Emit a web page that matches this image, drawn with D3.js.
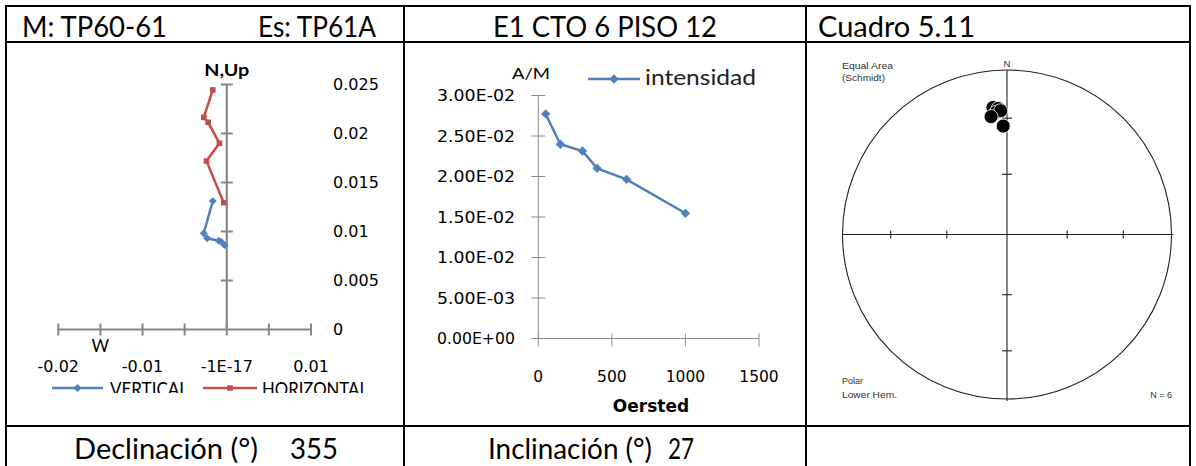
<!DOCTYPE html>
<html><head><meta charset="utf-8">
<script src="https://cdn.jsdelivr.net/npm/d3@7"></script>
<style>html,body{margin:0;padding:0;background:#fff;} svg{display:block}</style>
</head><body>
<svg id="c" width="1196" height="466"></svg>
<script>
// ---- Zijderveld components (A/M) ----
const horizE = [-0.00166, -0.00273, -0.00221, -0.00087, -0.00241, -0.00036];
const horizN = [0.02444, 0.02165, 0.02114, 0.01900, 0.01719, 0.01294];
const vertE  = [-0.00166, -0.00273, -0.00233, -0.00095, -0.00067, -0.00027];
const vertUp = [0.01311, 0.00982, 0.00931, 0.00906, 0.00896, 0.00862];
const zijXTicks = [-0.02, -0.015, -0.01, -0.005, 0, 0.005, 0.01];
const zijXLabelVals = [-0.02, -0.01, 0, 0.01];
const zijXLabels = ["-0.02", "-0.01", "-1E-17", "0.01"];
const zijYTicks = [0, 0.005, 0.01, 0.015, 0.02, 0.025];
const zijYLabels = ["0", "0.005", "0.01", "0.015", "0.02", "0.025"];

// ---- AF demagnetization intensity ----
const fieldOe = [50, 150, 300, 400, 600, 1000];
const intensity = [0.02772, 0.02398, 0.02315, 0.02101, 0.01965, 0.01546];
const intYTicks = [0, 0.005, 0.01, 0.015, 0.02, 0.025, 0.03];
const intYLabels = ["0.00E+00", "5.00E-03", "1.00E-02", "1.50E-02", "2.00E-02", "2.50E-02", "3.00E-02"];
const intXTicks = [0, 500, 1000, 1500];

// ---- Directions for the stereonet ----
const declination = [353.7, 356.0, 355.0, 357.1, 352.3, 358.0];
const inclination = [23.4, 24.2, 26.3, 25.6, 28.5, 34.4];
const dipTicks = [30, 60];

const BLUE = "#4F81BD", RED = "#C0504D", AXG = "#878787";
const CAL = "Lato, 'Open Sans', sans-serif";
const NUM = "'DejaVu Sans', Verdana, sans-serif";
const svg = d3.select("#c");

function txt(g, s, x, y, o) {
  o = o || {};
  const t = g.append("text").attr("x", x).attr("y", y).text(s)
    .attr("font-family", o.ff || CAL).attr("font-size", o.fs || 16)
    .attr("fill", o.fill || "#000");
  if (o.anchor) t.attr("text-anchor", o.anchor);
  if (o.fw) t.attr("font-weight", o.fw);
  if (o.len) t.attr("textLength", o.len).attr("lengthAdjust", "spacingAndGlyphs");
  if (o.dy) t.attr("dy", o.dy);
  return t;
}

// ---------- table ----------
const tbl = svg.append("g");
const colX = [6, 404, 806, 1190];
const rowY = [6, 42, 426, 470];
rowY.forEach(y => tbl.append("line").attr("x1", colX[0] - 1).attr("x2", colX[3] + 1)
  .attr("y1", y).attr("y2", y).attr("stroke", "#000").attr("stroke-width", 2));
colX.forEach(x => tbl.append("line").attr("x1", x).attr("x2", x)
  .attr("y1", rowY[0] - 1).attr("y2", rowY[3]).attr("stroke", "#000").attr("stroke-width", 2));

txt(tbl, "M: TP60-61", 22, 37, {fs: 28, len: 145});
txt(tbl, "Es: TP61A", 258, 37, {fs: 28, len: 118});
txt(tbl, "E1 CTO 6 PISO 12", 493, 37, {fs: 28, len: 224});
txt(tbl, "Cuadro 5.11", 818, 37, {fs: 28, len: 157});
txt(tbl, "Declinación (°)", 74, 459, {fs: 28, len: 184});
txt(tbl, "355", 290, 459, {fs: 28, len: 48});
txt(tbl, "Inclinación (°)", 488, 459, {fs: 28, len: 164});
txt(tbl, "27", 668, 459, {fs: 28, len: 26});

// ---------- Zijderveld diagram ----------
svg.append("clipPath").attr("id", "clipL").append("rect")
  .attr("x", 8).attr("y", 43).attr("width", 395).attr("height", 350);
const zg = svg.append("g").attr("clip-path", "url(#clipL)");
const zx = d3.scaleLinear().domain([-0.02, 0.01]).range([58.3, 311]);
const zy = d3.scaleLinear().domain([0, 0.025]).range([329.5, 84.5]);

// axes through the origin, ticks crossing the line
zg.append("line").attr("x1", zx(-0.02)).attr("x2", zx(0.01)).attr("y1", zy(0)).attr("y2", zy(0))
  .attr("stroke", AXG).attr("stroke-width", 2.2);
zg.append("line").attr("x1", zx(0)).attr("x2", zx(0)).attr("y1", zy(0)).attr("y2", zy(0.025))
  .attr("stroke", AXG).attr("stroke-width", 2.2);
zg.selectAll(".xt").data(zijXTicks).enter().append("line")
  .attr("x1", d => zx(d)).attr("x2", d => zx(d)).attr("y1", zy(0) - 6).attr("y2", zy(0) + 6)
  .attr("stroke", AXG).attr("stroke-width", 2);
zg.selectAll(".yt").data(zijYTicks.slice(1)).enter().append("line")
  .attr("x1", zx(0) - 6).attr("x2", zx(0) + 6).attr("y1", d => zy(d)).attr("y2", d => zy(d))
  .attr("stroke", AXG).attr("stroke-width", 2);

zijXLabelVals.forEach((v, i) => txt(zg, zijXLabels[i], zx(v), 372, {ff: NUM, fs: 16, anchor: "middle"}));
zijYTicks.forEach((v, i) => txt(zg, zijYLabels[i], 333, zy(v), {ff: NUM, fs: 16, dy: "0.36em"}));
txt(zg, "W", zx(-0.015), 352, {fs: 17, anchor: "middle"});
txt(zg, "N,Up", zx(0), 76, {fs: 17, anchor: "middle", fw: "bold", len: 45});

const zline = d3.line();
const hPts = horizE.map((e, i) => [zx(e), zy(horizN[i])]);
const vPts = vertE.map((e, i) => [zx(e), zy(vertUp[i])]);
zg.append("path").attr("d", zline(vPts)).attr("fill", "none").attr("stroke", BLUE).attr("stroke-width", 2.5);
zg.append("path").attr("d", zline(hPts)).attr("fill", "none").attr("stroke", RED).attr("stroke-width", 2.5);
const diamond = d3.symbol().type(d3.symbolDiamond2).size(40);
const square = d3.symbol().type(d3.symbolSquare2).size(40);
zg.selectAll(".vm").data(vPts).enter().append("path").attr("d", diamond)
  .attr("transform", d => `translate(${d[0]},${d[1]})`).attr("fill", BLUE);
zg.selectAll(".hm").data(hPts).enter().append("path").attr("d", square)
  .attr("transform", d => `translate(${d[0]},${d[1]})`).attr("fill", RED);

// legend
zg.append("line").attr("x1", 52).attr("x2", 103).attr("y1", 388).attr("y2", 388).attr("stroke", BLUE).attr("stroke-width", 2.5);
zg.append("path").attr("d", diamond).attr("transform", "translate(77.5,388)").attr("fill", BLUE);
txt(zg, "VERTICAL", 110, 396, {fs: 19, len: 78});
zg.append("line").attr("x1", 203).attr("x2", 257).attr("y1", 388).attr("y2", 388).attr("stroke", RED).attr("stroke-width", 2.5);
zg.append("path").attr("d", square).attr("transform", "translate(230,388)").attr("fill", RED);
txt(zg, "HORIZONTAL", 262, 396, {fs: 19, len: 106});

// ---------- intensity decay ----------
svg.append("clipPath").attr("id", "clipM").append("rect")
  .attr("x", 405).attr("y", 43).attr("width", 400).attr("height", 370);
const mg = svg.append("g").attr("clip-path", "url(#clipM)");
const ix = d3.scaleLinear().domain([0, 1500]).range([538.3, 759]);
const iy = d3.scaleLinear().domain([0, 0.03]).range([338.5, 95.5]);
const MAX = "#8c8c8c";
mg.append("line").attr("x1", ix(0)).attr("x2", ix(0)).attr("y1", iy(0)).attr("y2", iy(0.03)).attr("stroke", MAX).attr("stroke-width", 1);
mg.append("line").attr("x1", ix(0)).attr("x2", ix(1500)).attr("y1", iy(0)).attr("y2", iy(0)).attr("stroke", MAX).attr("stroke-width", 1);
mg.selectAll(".iyt").data(intYTicks).enter().append("line")
  .attr("x1", ix(0) - 7).attr("x2", ix(0) + 7).attr("y1", d => iy(d)).attr("y2", d => iy(d)).attr("stroke", MAX);
mg.selectAll(".ixt").data(intXTicks).enter().append("line")
  .attr("x1", d => ix(d)).attr("x2", d => ix(d)).attr("y1", iy(0) - 5).attr("y2", iy(0) + 8).attr("stroke", MAX);
intYTicks.forEach((v, i) => txt(mg, intYLabels[i], 515, iy(v), {ff: NUM, fs: 15.5, anchor: "end", dy: "0.36em", len: 78}));
intXTicks.forEach(v => txt(mg, String(v), ix(v), 382, {ff: NUM, fs: 15.5, anchor: "middle"}));
txt(mg, "Oersted", 651, 412, {ff: NUM, fs: 17, fw: "bold", anchor: "middle"});
txt(mg, "A/M", 531, 79, {fs: 16, anchor: "middle", len: 38});

const iPts = fieldOe.map((f, i) => [ix(f), iy(intensity[i])]);
mg.append("path").attr("d", d3.line()(iPts)).attr("fill", "none").attr("stroke", BLUE).attr("stroke-width", 2.5);
const idiam = d3.symbol().type(d3.symbolDiamond2).size(55);
mg.selectAll(".im").data(iPts).enter().append("path").attr("d", idiam)
  .attr("transform", d => `translate(${d[0]},${d[1]})`).attr("fill", BLUE);
mg.append("line").attr("x1", 588).attr("x2", 640).attr("y1", 79).attr("y2", 79).attr("stroke", BLUE).attr("stroke-width", 2.5);
mg.append("path").attr("d", idiam).attr("transform", "translate(614,79)").attr("fill", BLUE);
txt(mg, "intensidad", 645, 85, {fs: 21, len: 111, fill: "#222"});

// ---------- equal-area stereonet ----------
const sg = svg.append("g");
const cx = 1007, cy = 234.5, R = 164.5;
const rad = Math.PI / 180;
const rScale = d3.scaleLinear().domain([0, 1]).range([0, R]);
const eqArea = inc => rScale(Math.SQRT2 * Math.sin((90 - inc) / 2 * rad));
const SC = "#222";
sg.append("circle").attr("cx", cx).attr("cy", cy).attr("r", R).attr("fill", "none").attr("stroke", SC).attr("stroke-width", 1.1);
sg.append("line").attr("x1", cx - R).attr("x2", cx + R + 2).attr("y1", cy).attr("y2", cy).attr("stroke", SC).attr("stroke-width", 1.1);
sg.append("line").attr("x1", cx).attr("x2", cx).attr("y1", cy - R).attr("y2", cy + R + 2).attr("stroke", SC).attr("stroke-width", 1.1);
dipTicks.forEach(d => {
  const r = eqArea(d);
  [-1, 1].forEach(s => {
    sg.append("line").attr("x1", cx + s * r).attr("x2", cx + s * r).attr("y1", cy - 4).attr("y2", cy + 4).attr("stroke", SC).attr("stroke-width", 1.1);
    sg.append("line").attr("x1", cx - 5).attr("x2", cx + 5).attr("y1", cy + s * r).attr("y2", cy + s * r).attr("stroke", SC).attr("stroke-width", 1.1);
  });
});
const SF = "'Liberation Sans', Arial, sans-serif";
txt(sg, "N", cx, 67, {ff: SF, fs: 9.5, anchor: "middle", fill: "#333"});
txt(sg, "Equal Area", 842, 69, {ff: SF, fs: 9, fill: "#333", len: 51});
txt(sg, "(Schmidt)", 842, 81, {ff: SF, fs: 9, fill: "#333", len: 43});
txt(sg, "Polar", 842, 384, {ff: SF, fs: 9, fill: "#333"});
txt(sg, "Lower Hem.", 842, 398, {ff: SF, fs: 9, fill: "#333", len: 55});
txt(sg, "N = 6", 1172, 398, {ff: SF, fs: 9, fill: "#333", anchor: "end"});

sg.selectAll(".dir").data(declination.map((d, i) => [d, inclination[i]])).enter().append("circle")
  .attr("cx", d => cx + eqArea(d[1]) * Math.sin(d[0] * rad))
  .attr("cy", d => cy - eqArea(d[1]) * Math.cos(d[0] * rad))
  .attr("r", 7).attr("fill", "#000").attr("stroke", "#fff").attr("stroke-width", 0.8);
</script>
</body></html>
